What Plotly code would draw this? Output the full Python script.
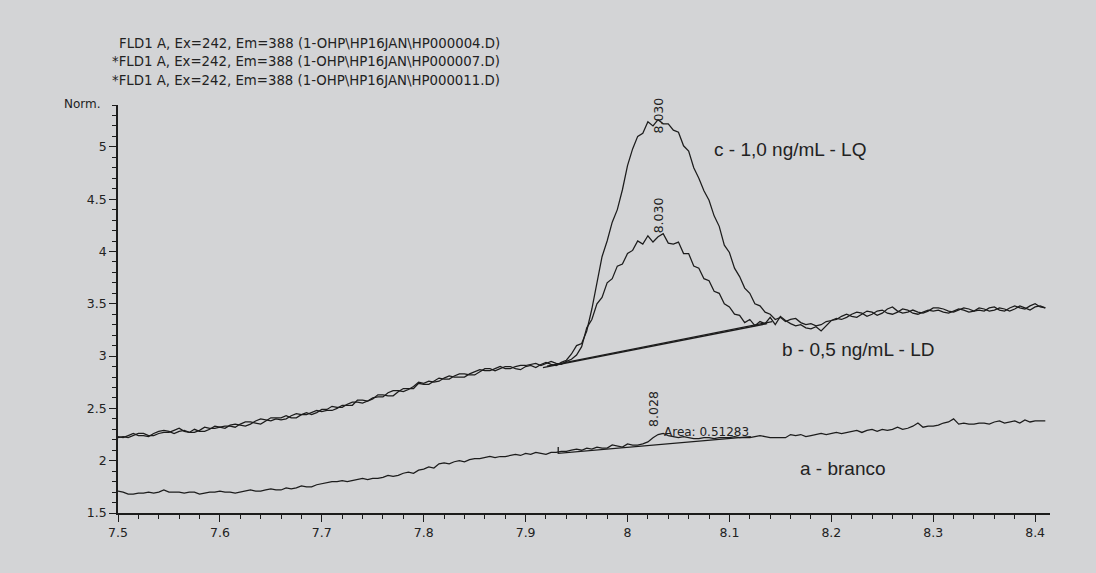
import numpy as np
import plotly.graph_objects as go

# retention time grid (min): 7.500 .. 8.410, step 0.005
RT_START = 7.5
RT_STEP = 0.005

# a - branco (blank)
trace_a = (
    [1.71, 1.70, 1.68, 1.68, 1.69, 1.69, 1.70, 1.69, 1.70, 1.72, 1.70, 1.70, 1.70, 1.69, 1.70, 1.70, 1.68, 1.69, 1.70, 1.70, 1.71]
    + [1.70, 1.70, 1.69, 1.70, 1.71, 1.72, 1.71, 1.71, 1.72, 1.73, 1.72, 1.72, 1.74, 1.73, 1.74, 1.76, 1.75, 1.75, 1.77, 1.78]
    + [1.79, 1.80, 1.80, 1.81, 1.80, 1.81, 1.82, 1.83, 1.82, 1.83, 1.83, 1.84, 1.86, 1.85, 1.86, 1.88, 1.89, 1.88, 1.91, 1.92]
    + [1.94, 1.93, 1.97, 1.98, 1.97, 1.99, 2.00, 1.99, 2.01, 2.02, 2.02, 2.03, 2.04, 2.03, 2.04, 2.04, 2.05, 2.06, 2.05, 2.07]
    + [2.06, 2.08, 2.07, 2.06, 2.08, 2.08, 2.09, 2.09, 2.10, 2.11, 2.10, 2.12, 2.11, 2.13, 2.12, 2.12, 2.15, 2.14, 2.13, 2.16]
    + [2.15, 2.15, 2.16, 2.18, 2.22, 2.25, 2.26, 2.24, 2.23, 2.22, 2.23, 2.22, 2.21, 2.21, 2.22, 2.22, 2.21, 2.22, 2.22, 2.22]
    + [2.23, 2.22, 2.22, 2.22, 2.23, 2.24, 2.23, 2.22, 2.22, 2.22, 2.22, 2.25, 2.24, 2.25, 2.23, 2.24, 2.25, 2.26, 2.25, 2.26]
    + [2.27, 2.26, 2.27, 2.28, 2.29, 2.27, 2.29, 2.30, 2.28, 2.30, 2.29, 2.30, 2.32, 2.30, 2.31, 2.33, 2.36, 2.32, 2.33, 2.33]
    + [2.34, 2.36, 2.37, 2.40, 2.35, 2.36, 2.35, 2.35, 2.36, 2.36, 2.35, 2.37, 2.38, 2.36, 2.37, 2.38, 2.36, 2.39, 2.37, 2.38, 2.38, 2.38]
)

# b - 0,5 ng/mL - LD
trace_b = (
    [2.22, 2.23, 2.22, 2.24, 2.26, 2.26, 2.24, 2.24, 2.26, 2.27, 2.27, 2.29, 2.31, 2.28, 2.27, 2.30, 2.28, 2.28, 2.30, 2.33, 2.32]
    + [2.33, 2.33, 2.32, 2.35, 2.37, 2.37, 2.36, 2.35, 2.38, 2.41, 2.41, 2.41, 2.43, 2.41, 2.41, 2.44, 2.46, 2.44, 2.46, 2.49]
    + [2.49, 2.52, 2.51, 2.51, 2.54, 2.56, 2.56, 2.55, 2.57, 2.60, 2.61, 2.61, 2.65, 2.67, 2.67, 2.66, 2.68, 2.71, 2.75, 2.74]
    + [2.76, 2.75, 2.76, 2.79, 2.81, 2.80, 2.80, 2.80, 2.83, 2.85, 2.87, 2.86, 2.86, 2.88, 2.90, 2.88, 2.88, 2.90, 2.91, 2.91]
    + [2.92, 2.93, 2.91, 2.93, 2.95, 2.93, 2.92, 2.95, 2.97, 3.01, 3.09, 3.27, 3.35, 3.50, 3.56, 3.70, 3.74, 3.86, 3.88, 3.98]
    + [4.01, 4.10, 4.07, 4.15, 4.09, 4.14, 4.17, 4.08, 4.07, 4.09, 3.98, 3.98, 3.86, 3.84, 3.74, 3.72, 3.62, 3.60, 3.50, 3.47]
    + [3.40, 3.39, 3.32, 3.35, 3.29, 3.33, 3.31, 3.37, 3.30, 3.38, 3.34, 3.31, 3.29, 3.30, 3.27, 3.26, 3.28, 3.24, 3.29, 3.34]
    + [3.35, 3.38, 3.40, 3.38, 3.37, 3.40, 3.43, 3.42, 3.39, 3.41, 3.45, 3.47, 3.43, 3.41, 3.42, 3.44, 3.42, 3.41, 3.43, 3.46]
    + [3.46, 3.45, 3.43, 3.42, 3.44, 3.46, 3.45, 3.43, 3.44, 3.43, 3.46, 3.47, 3.44, 3.43, 3.46, 3.48, 3.46, 3.45, 3.48, 3.50, 3.47, 3.46]
)

# c - 1,0 ng/mL - LQ
trace_c = (
    [2.23, 2.22, 2.24, 2.26, 2.24, 2.24, 2.23, 2.26, 2.28, 2.29, 2.28, 2.26, 2.28, 2.29, 2.27, 2.27, 2.29, 2.32, 2.31, 2.31, 2.32]
    + [2.31, 2.34, 2.35, 2.34, 2.33, 2.35, 2.38, 2.40, 2.39, 2.38, 2.40, 2.39, 2.40, 2.43, 2.45, 2.44, 2.44, 2.46, 2.48, 2.47]
    + [2.48, 2.48, 2.50, 2.53, 2.53, 2.53, 2.58, 2.58, 2.57, 2.59, 2.63, 2.63, 2.62, 2.62, 2.66, 2.69, 2.69, 2.69, 2.74, 2.73]
    + [2.73, 2.76, 2.79, 2.78, 2.78, 2.81, 2.83, 2.83, 2.82, 2.82, 2.85, 2.88, 2.88, 2.86, 2.88, 2.90, 2.90, 2.88, 2.87, 2.90]
    + [2.91, 2.89, 2.92, 2.94, 2.92, 2.91, 2.94, 2.96, 3.02, 3.10, 3.12, 3.24, 3.45, 3.70, 3.95, 4.10, 4.28, 4.40, 4.59, 4.82]
    + [4.98, 5.10, 5.13, 5.24, 5.20, 5.26, 5.22, 5.22, 5.16, 5.14, 5.01, 4.96, 4.80, 4.70, 4.58, 4.49, 4.34, 4.24, 4.06, 3.99]
    + [3.84, 3.76, 3.65, 3.60, 3.50, 3.48, 3.42, 3.40, 3.35, 3.37, 3.33, 3.35, 3.36, 3.32, 3.30, 3.31, 3.29, 3.30, 3.33, 3.34]
    + [3.36, 3.35, 3.37, 3.40, 3.42, 3.41, 3.38, 3.40, 3.43, 3.44, 3.41, 3.40, 3.42, 3.45, 3.44, 3.41, 3.40, 3.42, 3.44, 3.43]
    + [3.44, 3.42, 3.41, 3.43, 3.45, 3.44, 3.42, 3.43, 3.46, 3.45, 3.43, 3.44, 3.46, 3.45, 3.43, 3.45, 3.48, 3.46, 3.44, 3.47, 3.48, 3.46]
)

# integration baselines (start / end points)
base_a_x = [7.932, 7.932, 8.121]
base_a_y = [2.13, 2.07, 2.23]
base_b_x = [7.917, 8.137]
base_b_y = [2.89, 3.31]
base_c_x = [7.921, 8.142]
base_c_y = [2.905, 3.33]

# peak retention-time labels
peak_rt = ["8.028", "8.030", "8.030"]
peak_x = [8.026, 8.030, 8.030]
peak_y = [2.495, 4.346, 5.30]

area_text = "Area: 0.51283"
header_lines = [
    "FLD1 A, Ex=242, Em=388 (1-OHP\\HP16JAN\\HP000004.D)",
    "*FLD1 A, Ex=242, Em=388 (1-OHP\\HP16JAN\\HP000007.D)",
    "*FLD1 A, Ex=242, Em=388 (1-OHP\\HP16JAN\\HP000011.D)",
]
series_labels = ["a - branco", "b - 0,5 ng/mL - LD", "c - 1,0 ng/mL - LQ"]

W, H = 1096, 573
L, R, T, B = 118, 1050, 105, 513
BG = "#d3d4d6"
INK = "#1c1c1c"
TXT = "#222222"


def rt_axis(vals):
    return np.round(RT_START + RT_STEP * np.arange(len(vals)), 3)


def pxx(xp):
    return (xp - L) / (R - L)


def pxy(yp):
    return (B - yp) / (B - T)


fig = go.Figure()
for vals in (trace_a, trace_b, trace_c):
    fig.add_trace(go.Scatter(x=rt_axis(vals), y=vals, mode="lines",
                             line=dict(color=INK, width=1.25), hoverinfo="skip"))
for bx, by in ((base_a_x, base_a_y), (base_b_x, base_b_y), (base_c_x, base_c_y)):
    fig.add_trace(go.Scatter(x=bx, y=by, mode="lines",
                             line=dict(color=INK, width=1.3), hoverinfo="skip"))

ann = []
for i, line in enumerate(header_lines):
    ann.append(dict(text=line, xref="paper", yref="paper", x=pxx(502), y=pxy([43, 62, 80][i]),
                    xanchor="right", yanchor="middle", showarrow=False,
                    font=dict(family="DejaVu Sans", size=13.3, color=TXT)))
ann.append(dict(text="Norm.", xref="paper", yref="paper", x=pxx(103), y=pxy(104),
                xanchor="right", yanchor="middle", showarrow=False,
                font=dict(family="DejaVu Sans", size=12, color=TXT)))
for t, x, y in zip(peak_rt, peak_x, peak_y):
    ann.append(dict(text=t, x=x, y=y, textangle=-90, xanchor="center", yanchor="middle",
                    showarrow=False, font=dict(family="DejaVu Sans", size=12.5, color=TXT)))
ann.append(dict(text=area_text, x=8.034, y=2.27, xanchor="left", yanchor="middle",
                showarrow=False, font=dict(family="DejaVu Sans", size=12, color=TXT)))
for t, x, y in zip(series_labels, [8.1673, 8.1497, 8.083], [1.927, 3.063, 4.97]):
    ann.append(dict(text=t, x=x, y=y, xanchor="left", yanchor="middle", showarrow=False,
                    font=dict(family="Liberation Sans", size=19, color=TXT)))

axis_common = dict(showline=True, linecolor=INK, linewidth=1.5, showgrid=False, zeroline=False,
                   ticks="outside", ticklen=7, tickwidth=1.3, tickcolor=INK,
                   tickfont=dict(family="DejaVu Sans", size=12.5, color=TXT))

fig.update_layout(
    width=W, height=H,
    margin=dict(l=L, r=W - R, t=T, b=H - B, pad=0),
    paper_bgcolor=BG, plot_bgcolor=BG,
    showlegend=False,
    annotations=ann,
    xaxis=dict(range=[7.5, 8.4146], tick0=7.5, dtick=0.1,
               minor=dict(dtick=0.02, ticks="outside", ticklen=4, tickcolor=INK, tickwidth=1),
               **axis_common),
    yaxis=dict(range=[1.5, 5.40], tick0=1.5, dtick=0.5,
               minor=dict(dtick=0.1, ticks="outside", ticklen=4, tickcolor=INK, tickwidth=1),
               **axis_common),
)

fig.write_html(
    "out.html",
    config={"displayModeBar": False},
    post_script="document.body.style.margin='0';document.body.style.background='%s';"
                "document.documentElement.style.background='%s';" % (BG, BG),
)
